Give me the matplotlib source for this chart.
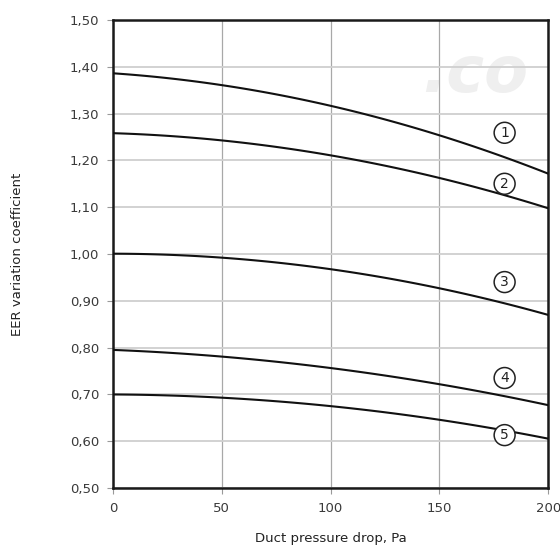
import numpy as np
import matplotlib
matplotlib.use('Agg')
import matplotlib.pyplot as plt

# duct pressure drop (Pa) and EER coefficient
pressure = [0, 50, 100, 150, 200]
curve_1 = [1.385, 1.364, 1.314, 1.254, 1.172]
curve_2 = [1.260, 1.240, 1.208, 1.169, 1.095]
curve_3 = [1.000, 0.994, 0.966, 0.927, 0.870]
curve_4 = [0.795, 0.781, 0.756, 0.722, 0.677]
curve_5 = [0.700, 0.693, 0.674, 0.647, 0.605]
curves = [curve_1, curve_2, curve_3, curve_4, curve_5]

labels = ['1', '2', '3', '4', '5']
label_x = [180, 180, 180, 180, 180]
label_y = [1.259, 1.150, 0.940, 0.735, 0.613]

x_ticks = [0, 50, 100, 150, 200]
y_ticks = [0.5, 0.6, 0.7, 0.8, 0.9, 1.0, 1.1, 1.2, 1.3, 1.4, 1.5]


def smooth(xs, ys):
    # quadratic fit through read points to get a smooth line
    c = np.polyfit(xs, ys, 2)
    xx = np.linspace(xs[0], xs[-1], 100)
    return xx, np.polyval(c, xx)


fig = plt.figure(figsize=(5.6, 5.48), dpi=100)
ax = fig.add_axes([0.2018, 0.1095, 0.777, 0.854])

# faint watermark in the background
ax.text(0.71, 0.885, '.co', transform=ax.transAxes, fontsize=46,
        fontweight='bold', style='italic', color='#efefef', zorder=0,
        ha='left', va='center')

for ys in curves:
    xx, yy = smooth(pressure, ys)
    ax.plot(xx, yy, color='#111111', lw=1.5, zorder=3)

for lab, lx, ly in zip(labels, label_x, label_y):
    ax.text(lx, ly, lab, ha='center', va='center', fontsize=10, zorder=4,
            color='#222222',
            bbox=dict(boxstyle='circle,pad=0.25', fc='white', ec='#222222', lw=1.1))

ax.set_xlim(0, 200)
ax.set_ylim(0.5, 1.5)
ax.set_xticks(x_ticks)
ax.set_yticks(y_ticks)
ax.set_yticklabels([('%.2f' % v).replace('.', ',') for v in y_ticks])
ax.set_axisbelow(True)
ax.grid(True, axis='y', color='#cfcfcf', lw=1.3)
ax.grid(True, axis='x', color='#a8a8a8', lw=0.9)

for s in ax.spines.values():
    s.set_linewidth(1.8)
    s.set_color('#1a1a1a')

ax.tick_params(axis='both', colors='#999999', labelcolor='#3a3a3a',
               labelsize=9.5, length=4, width=0.8, pad=6)

ax.set_xlabel('Duct pressure drop, Pa', fontsize=9.5, color='#222222', labelpad=12)
ax.set_ylabel('EER variation coefficient', fontsize=9.5, color='#222222', labelpad=33)

fig.savefig('out.png', dpi=100)
